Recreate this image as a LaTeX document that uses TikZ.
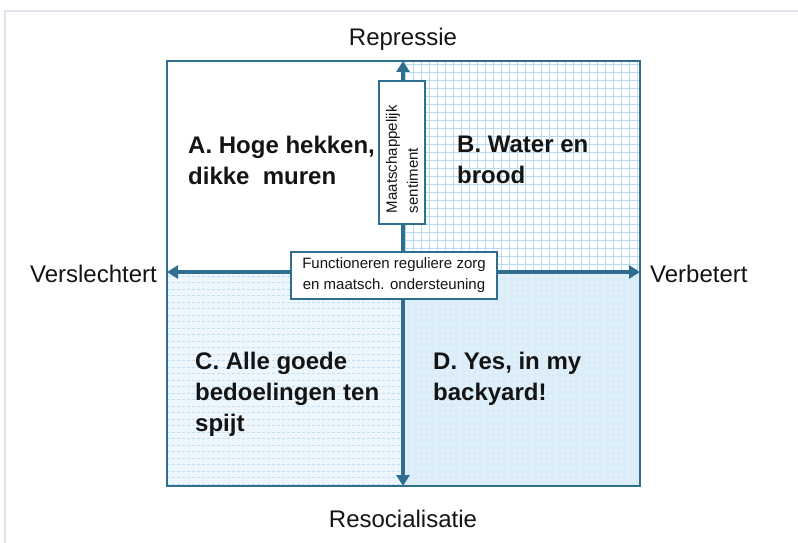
\documentclass[tikz,border=0pt]{standalone}
\usepackage{fontspec}
\setmainfont{Liberation Sans}
\usepackage{tikz}
\usetikzlibrary{arrows.meta, positioning}
\definecolor{qframe}{HTML}{2F6E91}
\definecolor{qgrid}{HTML}{B8DBF1}
\definecolor{qfillC}{HTML}{EDF6FC}
\definecolor{qdashC}{HTML}{C2E0F2}
\definecolor{qfillD}{HTML}{DAEDF8}
\definecolor{qedge}{HTML}{DFE5EE}
\definecolor{qtext}{HTML}{141414}
\tikzset{
  axlabel/.style={font=\fontsize{24}{28}\selectfont, text=qtext, inner sep=0pt},
  quadtxt/.style={font=\fontsize{24}{31}\selectfont\bfseries, text=qtext, align=left,
                  anchor=north west, inner sep=0pt},
  tagbox/.style={draw=qframe, fill=white, line width=1.3pt, text=qtext,
                 font=\fontsize{15}{21}\selectfont},
  axarr/.style={-{Triangle[length=11pt,width=13pt]}, line width=3.4pt, qframe},
  sqframe/.style={draw=qframe, line width=2pt, minimum width=473pt, minimum height=425pt,
                  inner sep=0pt},
}
\begin{document}
\begin{tikzpicture}[x=1pt, y=-1pt]
  \useasboundingbox (0,0) rectangle (798,543);
  % faint edge of the screenshot
  \draw[qedge, line width=1.5pt] (5,543) -- (5,11) -- (798,11);

  % quadrant backgrounds
  \fill[qfillC] (167,272) rectangle (403,486);
  \fill[qfillD] (403,272) rectangle (640,486);
  \begin{scope}
    \clip (403,61) rectangle (640,272);
    \foreach \x in {405,413,...,640} \draw[qgrid, line width=0.9pt] (\x,61) -- (\x,272);
    \foreach \y in {64,72,...,272} \draw[qgrid, line width=0.9pt] (403,\y) -- (640,\y);
  \end{scope}
  \begin{scope}
    \clip (167,272) rectangle (403,486);
    \foreach \y in {276,282.5,...,486}
      \draw[qdashC, line width=1pt, dash pattern=on 3pt off 2pt] (167,\y) -- (403,\y);
  \end{scope}
  \begin{scope}
    \clip (403,272) rectangle (640,486);
    \foreach \x in {406,412,...,640}
      \foreach \y in {276,282,...,486}
        \fill[white!85!qfillD] (\x,\y) circle (0.8pt);
  \end{scope}

  \node[sqframe] (sq) at (403.5,273.5) {};

  % axes
  \coordinate (o) at (403,272);
  \coordinate (top) at (403,61);
  \coordinate (bot) at (403,486);
  \coordinate (lft) at (167,272);
  \coordinate (rgt) at (640,272);
  \draw[axarr] (o) -- (top);
  \draw[axarr] (o) -- (bot);
  \draw[axarr] (o) -- (lft);
  \draw[axarr] (o) -- (rgt);

  % axis labels
  \node[axlabel, anchor=base] (repr) at (403,46) {Repressie};
  \node[axlabel, anchor=base] (resoc) at (403,527) {Resocialisatie};
  \node[axlabel, anchor=base east] (versl) at (157,282) {Verslechtert};
  \node[axlabel, anchor=base west] (verb) at (650,282) {Verbetert};

  % boxes on the axes
  \node[tagbox, rotate=90, align=left, text width=121pt, inner xsep=11pt,
        minimum height=46pt] (sent) at (402,152.5) {Maatschappelijk\\sentiment};
  \node[tagbox, align=center, minimum width=206pt, minimum height=47pt,
        inner sep=3pt] (func) at (394,275.5) {Functioneren reguliere zorg\\en maatsch. ondersteuning};

  % quadrants
  \node[quadtxt] (qa) at (188,136) {A. Hoge hekken,\\dikke\ \ muren};
  \node[quadtxt] (qb) at (457,136) {B. Water en\\brood};
  \node[quadtxt] (qc) at (195,352) {C. Alle goede\\bedoelingen ten\\spijt};
  \node[quadtxt] (qd) at (433,352) {D. Yes, in my\\backyard!};
\end{tikzpicture}
\end{document}
